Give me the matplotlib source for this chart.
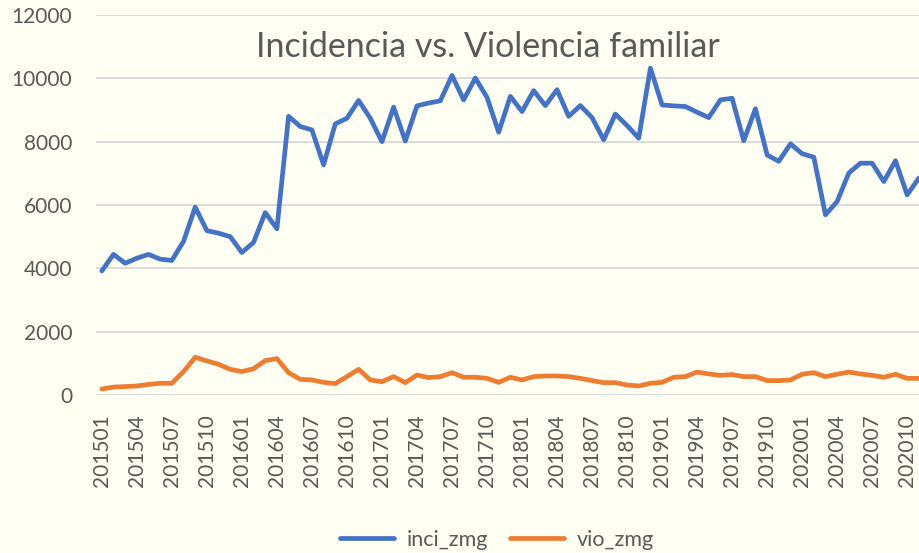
import numpy as np
import matplotlib.pyplot as plt

plt.rcParams['font.family'] = ['Lato', 'DejaVu Sans']

# meses 201501 .. 202011
meses = [f"{2015 + i // 12}{i % 12 + 1:02d}" for i in range(71)]

inci_zmg = [3920, 4440, 4160, 4320, 4440, 4290, 4250, 4850, 5930, 5190,
            5110, 5000, 4500, 4820, 5760, 5250, 8800, 8480, 8370, 7270,
            8560, 8740, 9300, 8740, 8000, 9090, 8020, 9130, 9220, 9290,
            10090, 9320, 10010, 9400, 8300, 9430, 8950, 9610, 9140, 9640,
            8800, 9140, 8760, 8060, 8870, 8510, 8110, 10320, 9160, 9130,
            9110, 8930, 8760, 9320, 9370, 8030, 9040, 7580, 7380, 7930,
            7620, 7510, 5690, 6110, 7010, 7320, 7320, 6740, 7400, 6320,
            6850]

vio_zmg = [190, 250, 265, 285, 335, 370, 370, 740, 1190, 1075,
           970, 810, 740, 830, 1085, 1150, 705, 495, 475, 400,
           360, 580, 810, 475, 420, 580, 390, 630, 550, 580,
           705, 560, 560, 525, 400, 560, 475, 580, 600, 600,
           580, 525, 455, 390, 390, 315, 285, 370, 400, 560,
           580, 725, 665, 620, 645, 580, 580, 455, 455, 475,
           655, 705, 580, 655, 725, 665, 620, 560, 655, 525,
           525]

x = np.arange(len(meses))

fig = plt.figure(figsize=(9.2, 5.53), dpi=100)
bg = '#FEFEF3'
fig.patch.set_facecolor(bg)
ax = fig.add_axes([96 / 920, 1 - 395 / 553, 1 - 96 / 920, (395 - 15) / 553])
ax.set_facecolor(bg)

ax.plot(x, inci_zmg, color='#4472C4', lw=3.4, label='inci_zmg',
        solid_joinstyle='round', solid_capstyle='round')
ax.plot(x, vio_zmg, color='#ED7D31', lw=3.4, label='vio_zmg',
        solid_joinstyle='round', solid_capstyle='round')

ax.set_ylim(0, 12000)
ax.set_yticks(range(0, 12001, 2000))
ax.set_xlim(-0.5, 70.1)
ax.set_xticks(x[::3])
ax.set_xticklabels(meses[::3], rotation=90)
ax.grid(axis='y', color='#D9D9D9', lw=1.3)
ax.set_axisbelow(True)
for s in ax.spines.values():
    s.set_visible(False)
ax.tick_params(length=0, labelsize=15, labelcolor='#595959')
ax.tick_params(axis='y', pad=17)
ax.tick_params(axis='x', pad=14)

fig.text(0.53, 1 - 47 / 553, 'Incidencia vs. Violencia familiar',
         ha='center', va='center', fontsize=24.5, color='#595959')

fig.legend(loc='center', bbox_to_anchor=(0.54, 1 - 540 / 553), ncol=2,
           frameon=False, fontsize=15.5, handlelength=2.5, handletextpad=0.6,
           columnspacing=1.0, labelcolor='#595959')

fig.savefig('out.png', dpi=100, facecolor=bg)
